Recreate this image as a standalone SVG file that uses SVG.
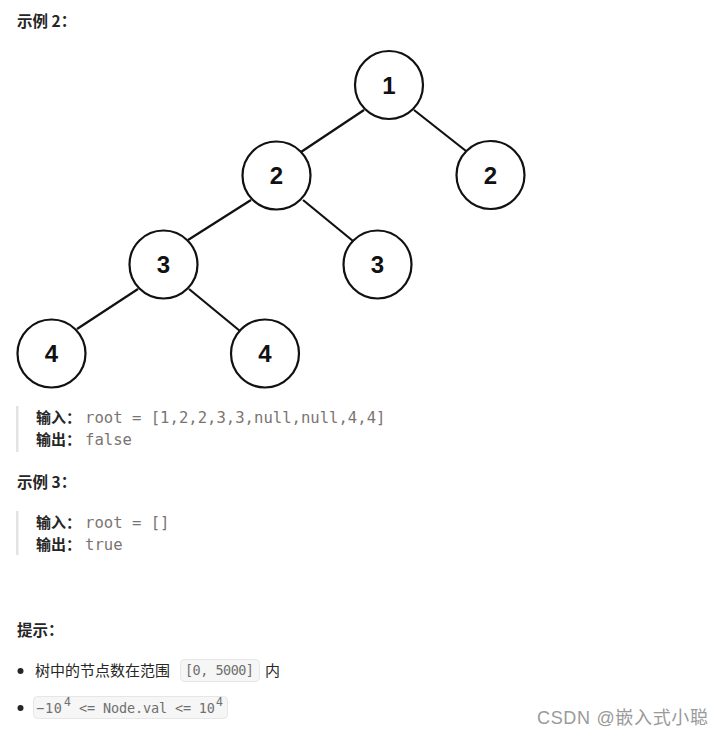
<svg xmlns="http://www.w3.org/2000/svg" width="724" height="737" viewBox="0 0 724 737">
<style>
.node circle{fill:#fff;stroke:#111;stroke-width:2.2}
.node text{font-family:"Liberation Sans",Arial,sans-serif;font-weight:bold;font-size:24px;fill:#111;text-anchor:middle}
.edge{stroke:#111;stroke-width:2.2;fill:none}
.h{font-family:"Noto Sans CJK SC","Noto Sans",sans-serif;font-weight:bold;font-size:15.5px;fill:#262626}
.lbl{font-family:"Noto Sans CJK SC","Noto Sans",sans-serif;font-weight:bold;font-size:15px;fill:#262626}
.code{font-family:"DejaVu Sans Mono","Liberation Mono",monospace;font-size:15.6px;fill:#7a7572}
.bar{fill:#e3e3e3}
.body{font-family:"Noto Sans CJK SC","Noto Sans",sans-serif;font-size:15px;fill:#262626}
.ic{fill:#f6f6f6;stroke:#e6e6e6;stroke-width:1}
.icode{font-family:"DejaVu Sans Mono","Liberation Mono",monospace;font-size:13.5px;fill:#6f6f6f}
.sup{font-family:"DejaVu Sans Mono","Liberation Mono",monospace;font-size:11.5px;fill:#6f6f6f}
.wm{font-family:"Liberation Sans","Noto Sans CJK SC",sans-serif;font-size:18px;fill:#9a9a9a}
</style>
<rect width="724" height="737" fill="#fff"/>
<text class="h" x="17" y="27">示例 2：</text>
<g id="connectors">
<line class="edge" x1="364" y1="110" x2="301" y2="152"/>
<line class="edge" x1="414" y1="110" x2="466" y2="151"/>
<line class="edge" x1="251" y1="200" x2="188" y2="240"/>
<line class="edge" x1="303" y1="200" x2="353" y2="241"/>
<line class="edge" x1="138" y1="289" x2="77" y2="329"/>
<line class="edge" x1="189" y1="289" x2="240" y2="331"/>
</g>
<g id="n1" class="node"><circle cx="389" cy="85" r="34"/><text x="389" y="94">1</text></g>
<g id="n2l" class="node"><circle cx="276.5" cy="175.5" r="34"/><text x="276.5" y="184">2</text></g>
<g id="n2r" class="node"><circle cx="490.5" cy="175" r="34"/><text x="490.5" y="184">2</text></g>
<g id="n3l" class="node"><circle cx="163.5" cy="264.5" r="34"/><text x="163.5" y="273">3</text></g>
<g id="n3r" class="node"><circle cx="377.5" cy="264.5" r="34"/><text x="377.5" y="273">3</text></g>
<g id="n4l" class="node"><circle cx="51.5" cy="353.5" r="34"/><text x="51.5" y="362">4</text></g>
<g id="n4r" class="node"><circle cx="265" cy="353.5" r="34"/><text x="265" y="362">4</text></g>

<rect class="bar" x="16" y="406" width="2.5" height="46"/>
<text class="lbl" x="36" y="423">输入：</text>
<text class="code" x="85" y="423">root = [1,2,2,3,3,null,null,4,4]</text>
<text class="lbl" x="36" y="445">输出：</text>
<text class="code" x="85" y="445">false</text>

<text class="h" x="17" y="488">示例 3：</text>
<rect class="bar" x="16" y="511" width="2.5" height="44"/>
<text class="lbl" x="36" y="528">输入：</text>
<text class="code" x="85" y="528">root = []</text>
<text class="lbl" x="36" y="550">输出：</text>
<text class="code" x="85" y="550">true</text>

<text class="h" x="17" y="636">提示：</text>
<circle cx="20.5" cy="671" r="3" fill="#262626"/>
<text class="body" x="35" y="676">树中的节点数在范围</text>
<rect class="ic" x="180.5" y="659.5" width="79" height="22" rx="4"/>
<text class="icode" x="185" y="675" textLength="69">[0, 5000]</text>
<text class="body" x="265" y="676">内</text>
<circle cx="20.5" cy="708" r="3" fill="#262626"/>
<rect class="ic" x="33.5" y="696.5" width="194" height="22" rx="4"/>
<text class="icode" x="36" y="713" textLength="26">−10</text>
<text class="sup" x="64" y="706">4</text>
<text class="icode" x="79" y="713" textLength="136">&lt;= Node.val &lt;= 10</text>
<text class="sup" x="216" y="706">4</text>

<text class="wm" x="537" y="724" textLength="171">CSDN @嵌入式小聪</text>
</svg>
